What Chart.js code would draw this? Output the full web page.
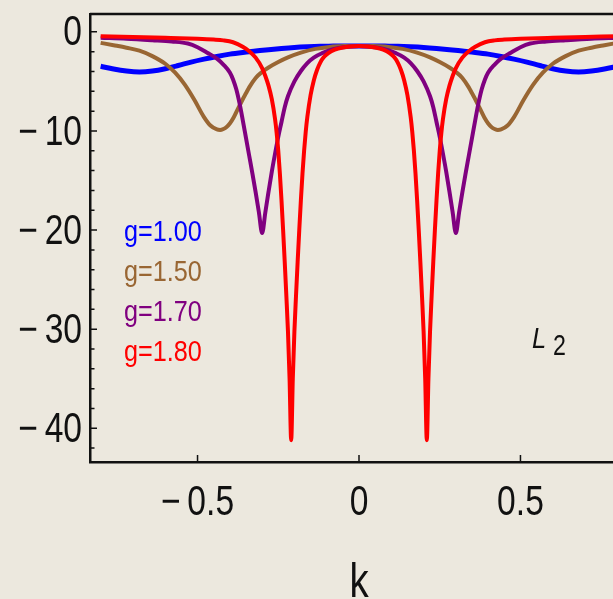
<!DOCTYPE html>
<html>
<head>
<meta charset="utf-8">
<script src="https://cdn.jsdelivr.net/npm/chart.js@4/dist/chart.umd.min.js"></script>
<style>
  html, body { margin: 0; padding: 0; overflow: hidden; background: #ece8de; }
  canvas { display: block; }
</style>
</head>
<body>
<canvas id="myChart" width="640" height="599"></canvas>
<script>
// values, k on the x axis
const kBlue = [-0.80, -0.76, -0.72, -0.68, -0.64, -0.60, -0.56, -0.52, -0.48, -0.44, -0.40, -0.36, -0.32, -0.28, -0.24, -0.20, -0.16, -0.12, -0.08, -0.04, 0,
  0.04, 0.08, 0.12, 0.16, 0.20, 0.24, 0.28, 0.32, 0.36, 0.40, 0.44, 0.48, 0.52, 0.56, 0.60, 0.64, 0.68, 0.72, 0.76, 0.80];
const lBlue = [-3.47, -3.75, -3.95, -4.04, -3.95, -3.72, -3.40, -3.05, -2.75, -2.48, -2.25, -2.08, -1.94, -1.80, -1.68, -1.58, -1.51, -1.46, -1.44, -1.42, -1.42,
  -1.42, -1.44, -1.46, -1.51, -1.58, -1.68, -1.80, -1.94, -2.08, -2.25, -2.48, -2.75, -3.05, -3.40, -3.72, -3.95, -4.04, -3.95, -3.75, -3.47];

const kBrown = [-0.80, -0.76, -0.72, -0.68, -0.64, -0.60, -0.57, -0.54, -0.51, -0.48, -0.46, -0.44, -0.43, -0.42, -0.41, -0.40, -0.39, -0.38, -0.37, -0.36, -0.35, -0.34, -0.32, -0.30, -0.28, -0.25, -0.22, -0.18, -0.135, -0.09, -0.045, 0,
  0.045, 0.09, 0.135, 0.18, 0.22, 0.25, 0.28, 0.30, 0.32, 0.34, 0.35, 0.36, 0.37, 0.38, 0.39, 0.40, 0.41, 0.42, 0.43, 0.44, 0.46, 0.48, 0.51, 0.54, 0.57, 0.60, 0.64, 0.68, 0.72, 0.76, 0.80];
const lBrown = [-1.11, -1.35, -1.60, -1.90, -2.45, -3.22, -4.10, -5.30, -6.85, -8.60, -9.45, -9.85, -9.90, -9.80, -9.60, -9.25, -8.75, -8.10, -7.45, -6.80, -6.20, -5.60, -4.65, -4.05, -3.60, -3.05, -2.58, -2.10, -1.72, -1.52, -1.44, -1.42,
  -1.44, -1.52, -1.72, -2.10, -2.58, -3.05, -3.60, -4.05, -4.65, -5.60, -6.20, -6.80, -7.45, -8.10, -8.75, -9.25, -9.60, -9.80, -9.90, -9.85, -9.45, -8.60, -6.85, -5.30, -4.10, -3.22, -2.45, -1.90, -1.60, -1.35, -1.11];

const kPurple = [-0.80, -0.72, -0.64, -0.58, -0.53, -0.50, -0.47, -0.44, -0.42, -0.40, -0.39, -0.38, -0.37, -0.36, -0.35, -0.34, -0.33, -0.32, -0.31, -0.30,
  -0.29, -0.28, -0.27, -0.26, -0.25, -0.24, -0.23, -0.22, -0.20, -0.18, -0.16, -0.14, -0.114, -0.09, -0.063, -0.03, 0,
  0.03, 0.063, 0.09, 0.114, 0.14, 0.16, 0.18, 0.20, 0.22, 0.23, 0.24, 0.25, 0.26, 0.27, 0.28, 0.29,
  0.30, 0.31, 0.32, 0.33, 0.34, 0.35, 0.36, 0.37, 0.38, 0.39, 0.40, 0.42, 0.44, 0.47, 0.50, 0.53, 0.58, 0.64, 0.72, 0.80];
const lPurple = [-0.60, -0.70, -0.85, -0.98, -1.18, -1.55, -2.10, -2.70, -3.30, -4.10, -4.80, -5.80, -7.20, -8.90, -10.7, -12.5, -14.3, -16.2, -18.2, -20.3,
  -18.2, -16.1, -14.1, -12.3, -10.6, -9.10, -7.60, -6.50, -5.00, -3.95, -3.15, -2.60, -2.15, -1.85, -1.62, -1.47, -1.42,
  -1.47, -1.62, -1.85, -2.15, -2.60, -3.15, -3.95, -5.00, -6.50, -7.60, -9.10, -10.6, -12.3, -14.1, -16.1, -18.2,
  -20.3, -18.2, -16.2, -14.3, -12.5, -10.7, -8.90, -7.20, -5.80, -4.80, -4.10, -3.30, -2.70, -2.10, -1.55, -1.18, -0.98, -0.85, -0.70, -0.60];

const kRed = [-0.80, -0.70, -0.60, -0.50, -0.45, -0.42, -0.39, -0.36, -0.34, -0.32, -0.30, -0.29, -0.28, -0.27, -0.26, -0.255, -0.25, -0.245, -0.24, -0.235, -0.23, -0.225, -0.22, -0.215, -0.21,
  -0.205, -0.20, -0.195, -0.19, -0.185, -0.18, -0.175, -0.17, -0.165, -0.16, -0.15, -0.14, -0.13, -0.12, -0.11, -0.095, -0.075, -0.05, -0.025, 0,
  0.025, 0.05, 0.075, 0.095, 0.11, 0.12, 0.13, 0.14, 0.15, 0.16, 0.165, 0.17, 0.175, 0.18, 0.185, 0.19, 0.195, 0.20, 0.205,
  0.21, 0.215, 0.22, 0.225, 0.23, 0.235, 0.24, 0.245, 0.25, 0.255, 0.26, 0.27, 0.28, 0.29, 0.30, 0.32, 0.34, 0.36, 0.39, 0.42, 0.45, 0.50, 0.60, 0.70, 0.80];
const lRed = [-0.44, -0.52, -0.60, -0.70, -0.78, -0.86, -1.05, -1.50, -1.95, -2.60, -3.65, -4.45, -5.45, -6.80, -8.80, -10.2, -12.0, -14.3, -17.0, -20.0, -23.2, -26.6, -30.2, -35.0, -41.2,
  -35.0, -30.2, -26.6, -23.2, -20.0, -17.0, -14.3, -12.0, -10.1, -8.60, -6.40, -4.90, -3.85, -3.10, -2.60, -2.15, -1.80, -1.58, -1.47, -1.43,
  -1.47, -1.58, -1.80, -2.15, -2.60, -3.10, -3.85, -4.90, -6.40, -8.60, -10.1, -12.0, -14.3, -17.0, -20.0, -23.2, -26.6, -30.2, -35.0,
  -41.2, -35.0, -30.2, -26.6, -23.2, -20.0, -17.0, -14.3, -12.0, -10.2, -8.80, -6.80, -5.45, -4.45, -3.65, -2.60, -1.95, -1.50, -1.05, -0.86, -0.78, -0.70, -0.60, -0.52, -0.44];

const legendLabels = ['g=1.00', 'g=1.50', 'g=1.70', 'g=1.80'];
const colors = ['#0000ff', '#996633', '#800080', '#ff0000'];

const xTicks = [-0.5, 0, 0.5];
const yTicks = [-40, -30, -20, -10, 0];
const yMinorTicks = [0, -2, -4, -6, -8, -10, -12, -14, -16, -18, -20, -22, -24, -26, -28, -30, -32, -34, -36, -38, -40, -42];

const FONT = "'Liberation Sans', Arial, sans-serif";

function pts(ks, vs) {
  return ks.map((k, i) => ({ x: k, y: vs[i] }));
}

function fmt(v) {
  return v < 0 ? '\u2212\u2009' + Math.abs(v) : String(v);
}

// narrow text: squeeze horizontally like the original lettering
function narrowText(ctx, text, x, y, sx, align) {
  ctx.save();
  ctx.translate(x, y);
  ctx.scale(sx, 1);
  ctx.textAlign = align;
  ctx.fillText(text, 0, 0);
  ctx.restore();
}

// frame top/right, inward ticks, tick labels, axis name, legend and the L2 label
const extras = {
  id: 'extras',
  afterDraw(chart) {
    const { ctx, chartArea: a, scales: { x, y } } = chart;
    ctx.save();
    ctx.strokeStyle = '#111';
    ctx.lineWidth = 2.5;
    ctx.beginPath();
    ctx.moveTo(a.left, a.top);
    ctx.lineTo(a.right, a.top);
    ctx.lineTo(a.right, a.bottom);
    ctx.stroke();

    ctx.lineWidth = 1.5;
    ctx.beginPath();
    yMinorTicks.forEach(v => {
      const py = y.getPixelForValue(v);
      const len = yTicks.includes(v) ? 7 : 4.5;
      ctx.moveTo(a.left, py);
      ctx.lineTo(a.left + len, py);
    });
    xTicks.forEach(v => {
      const px = x.getPixelForValue(v);
      ctx.moveTo(px, a.bottom);
      ctx.lineTo(px, a.bottom - 7);
    });
    ctx.stroke();

    ctx.fillStyle = '#111';
    ctx.textBaseline = 'middle';
    ctx.font = '42px ' + FONT;
    yTicks.forEach(v => narrowText(ctx, fmt(v), 82, y.getPixelForValue(v) + 2, 0.8, 'right'));
    xTicks.forEach(v => narrowText(ctx, fmt(v), x.getPixelForValue(v), a.bottom + 41, 0.8, 'center'));

    ctx.textBaseline = 'alphabetic';
    ctx.font = '48px ' + FONT;
    narrowText(ctx, 'k', x.getPixelForValue(0), 597, 0.8, 'center');

    ctx.textBaseline = 'middle';
    ctx.font = '29px ' + FONT;
    legendLabels.forEach((t, i) => {
      ctx.fillStyle = colors[i];
      narrowText(ctx, t, 124, 233 + i * 40, 0.87, 'left');
    });

    ctx.fillStyle = '#111';
    ctx.textBaseline = 'alphabetic';
    ctx.font = 'italic 30px ' + FONT;
    narrowText(ctx, 'L', 532, 348, 0.85, 'left');
    ctx.font = '29px ' + FONT;
    narrowText(ctx, '2', 553, 355, 0.8, 'left');
    ctx.restore();
  }
};

const ctx = document.getElementById('myChart').getContext('2d');

const chartData = {
  datasets: [
    { label: legendLabels[0], data: pts(kBlue, lBlue), borderColor: colors[0], borderWidth: 5, order: 4 },
    { label: legendLabels[1], data: pts(kBrown, lBrown), borderColor: colors[1], borderWidth: 4, order: 3 },
    { label: legendLabels[2], data: pts(kPurple, lPurple), borderColor: colors[2], borderWidth: 4, order: 2 },
    { label: legendLabels[3], data: pts(kRed, lRed), borderColor: colors[3], borderWidth: 4, order: 1 }
  ]
};

const config = {
  type: 'line',
  data: chartData,
  options: {
    responsive: false,
    animation: false,
    devicePixelRatio: 1,
    layout: { padding: { top: 14, right: 12, left: 0, bottom: 0 } },
    elements: {
      point: { radius: 0 },
      line: { fill: false, cubicInterpolationMode: 'monotone' }
    },
    plugins: { legend: { display: false }, tooltip: { enabled: false } },
    scales: {
      x: {
        type: 'linear',
        min: -0.833,
        max: 0.833,
        afterBuildTicks: s => { s.ticks = xTicks.map(v => ({ value: v })); },
        afterFit: s => { s.height = 137; s.paddingLeft = 0; s.paddingRight = 0; },
        grid: { display: false, drawTicks: false },
        border: { display: true, color: '#111', width: 2.5 },
        ticks: { display: false }
      },
      y: {
        min: -43.4,
        max: 1.8,
        afterBuildTicks: s => { s.ticks = yTicks.map(v => ({ value: v })); },
        afterFit: s => { s.width = 90; s.paddingTop = 0; s.paddingBottom = 0; },
        grid: { display: false, drawTicks: false },
        border: { display: true, color: '#111', width: 2.5 },
        ticks: { display: false }
      }
    }
  },
  plugins: [extras]
};

const myChart = new Chart(ctx, config);
</script>
</body>
</html>
